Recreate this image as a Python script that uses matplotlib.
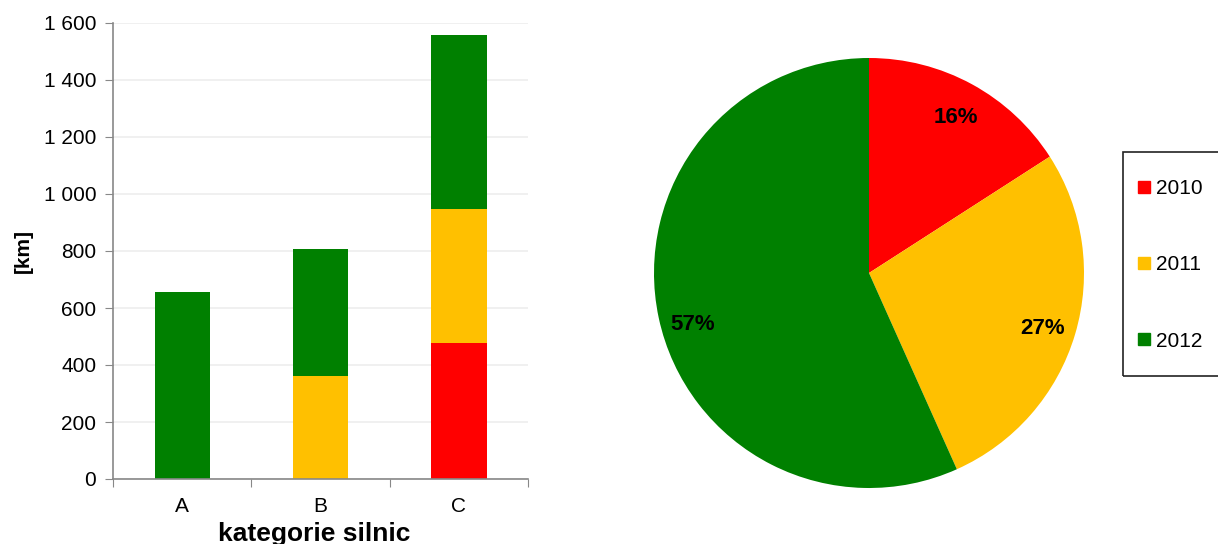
import numpy as np
import matplotlib.pyplot as plt
from matplotlib.lines import Line2D
from matplotlib.patches import Rectangle

plt.rcParams['font.family'] = ['Liberation Sans', 'DejaVu Sans']

# data
categories = ['A', 'B', 'C']
years = ['2010', '2011', '2012']
km_2010 = [0, 0, 477]
km_2011 = [0, 361, 470]
km_2012 = [656, 446, 611]
pie_share = [15.9, 27.4, 56.7]
colors = ['#FF0000', '#FFC000', '#008000']
y_ticks = [0, 200, 400, 600, 800, 1000, 1200, 1400, 1600]

fig = plt.figure(figsize=(12.18, 5.44), dpi=100)

# stacked bars
ax = fig.add_axes([113 / 1218, 65 / 544, 415 / 1218, 456 / 544])
x = np.arange(len(categories))
bottom = np.zeros(len(categories))
for vals, c in zip([km_2010, km_2011, km_2012], colors):
    ax.bar(x, vals, width=0.4, bottom=bottom, color=c, zorder=2)
    bottom += np.array(vals)

ax.set_xlim(-0.5, 2.5)
ax.set_ylim(0, 1600)
ax.set_yticks(y_ticks)
ax.set_yticklabels([f'{v:,}'.replace(',', ' ') for v in y_ticks], fontsize=15)
ax.set_xticks([-0.5, 0.5, 1.5, 2.5])
ax.set_xticklabels([])
ax.set_xticks(x, minor=True)
ax.set_xticklabels(categories, minor=True, fontsize=15)
ax.tick_params(axis='x', which='minor', length=0, pad=13)
ax.tick_params(axis='x', which='major', length=6, color='#888888', direction='out')
ax.tick_params(axis='y', length=6, color='#888888', direction='out', pad=6)
ax.grid(axis='y', color='#EDEDED', lw=1.2, zorder=0)
for s in ['top', 'right']:
    ax.spines[s].set_visible(False)
for s in ['left', 'bottom']:
    ax.spines[s].set_color('#888888')
    ax.spines[s].set_linewidth(1.2)
ax.set_xlabel('kategorie silnic', fontsize=19, fontweight='bold', labelpad=4)
ax.xaxis.label.set_x(0.485)
ax.set_ylabel('[km]', fontsize=15, fontweight='bold', labelpad=8)

# pie
pax = fig.add_axes([654 / 1218, 56 / 544, 430 / 1218, 430 / 544])
wedges, texts, autotexts = pax.pie(pie_share, colors=colors, startangle=90,
                                   counterclock=False, autopct='%1.0f%%',
                                   pctdistance=0.84, radius=1,
                                   textprops={'fontsize': 16, 'fontweight': 'bold'})
# small nudges so the labels sit where Excel put them
for t, dy in zip(autotexts, [-0.015, -0.02, -0.065]):
    px, py = t.get_position()
    t.set_position((px, py + dy))
pax.set_xlim(-1, 1)
pax.set_ylim(-1, 1)
pax.set_aspect('equal')

handles = [Line2D([], [], marker='s', ls='', color=c, markersize=8) for c in colors]
leg = fig.legend(handles, years, loc='upper left',
                 bbox_to_anchor=(1110 / 1218, 1 - 152 / 544),
                 frameon=False, fontsize=15,
                 handlelength=0.7, handletextpad=0.2, labelspacing=2.75,
                 borderpad=1.3, borderaxespad=0)
fig.patches.append(Rectangle((1123 / 1218, 1 - 376 / 544), 120 / 1218, 224 / 544,
                             transform=fig.transFigure, fill=False,
                             edgecolor='#222222', lw=1.2))

fig.savefig('out.png', dpi=100)
